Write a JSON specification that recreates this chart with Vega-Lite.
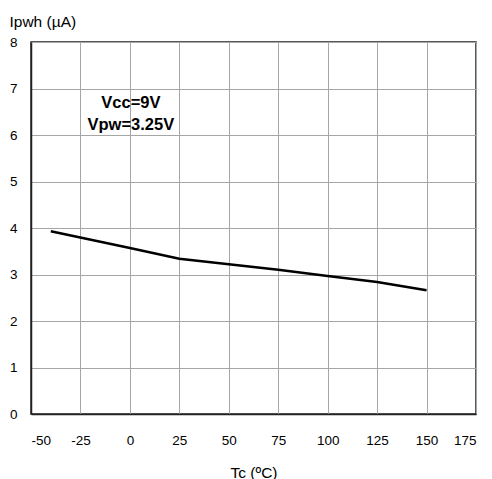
{
  "$schema": "https://vega.github.io/schema/vega-lite/v6.json",
  "autosize": "none",
  "width": 445,
  "height": 372,
  "padding": {"left": 31, "top": 42, "right": 16, "bottom": 65},
  "background": "white",
  "config": {
    "font": "Liberation Sans",
    "view": {"stroke": "#222222", "strokeWidth": 1.5},
    "axis": {
      "grid": true,
      "gridColor": "#a6a6a6",
      "gridWidth": 1,
      "gridOpacity": 1,
      "domainColor": "#222222",
      "domainWidth": 1.5,
      "ticks": false,
      "labelFont": "Liberation Sans",
      "labelFontSize": 13.5,
      "labelColor": "#000000",
      "titleFont": "Liberation Sans",
      "titleFontSize": 15.5,
      "titleFontWeight": "normal",
      "titleColor": "#000000"
    }
  },
  "datasets": {
    "curve": [
      {"Tc": -40, "I": 3.93},
      {"Tc": 0, "I": 3.57},
      {"Tc": 25, "I": 3.34},
      {"Tc": 50, "I": 3.22},
      {"Tc": 75, "I": 3.10},
      {"Tc": 100, "I": 2.97},
      {"Tc": 125, "I": 2.84},
      {"Tc": 150, "I": 2.66}
    ],
    "notes": [
      {"Tc": 0.5, "I": 6.69, "label": "Vcc=9V"},
      {"Tc": 0.5, "I": 6.21, "label": "Vpw=3.25V"}
    ]
  },
  "layer": [
    {
      "data": {"name": "curve"},
      "mark": {"type": "line", "color": "#000000", "strokeWidth": 2.5},
      "encoding": {
        "x": {
          "field": "Tc",
          "type": "quantitative",
          "scale": {"domain": [-50, 175], "nice": false, "zero": false},
          "axis": {
            "values": [-50, -25, 0, 25, 50, 75, 100, 125, 150, 175],
            "labelExpr": "replace(datum.label, '−', '-')",
            "title": "Tc (ºC)",
            "labelBaseline": "alphabetic",
            "labelPadding": 30,
            "labelDx": 2,
            "titleBaseline": "alphabetic",
            "titleY": 63
          }
        },
        "y": {
          "field": "I",
          "type": "quantitative",
          "scale": {"domain": [0, 8], "nice": false},
          "axis": {
            "values": [0, 1, 2, 3, 4, 5, 6, 7, 8],
            "title": "Ipwh (µA)",
            "titleAngle": 0,
            "titleAlign": "left",
            "titleBaseline": "alphabetic",
            "titleX": -22,
            "titleY": -16,
            "labelPadding": 14
          }
        }
      }
    },
    {
      "data": {"name": "notes"},
      "mark": {"type": "text", "font": "Liberation Sans", "fontWeight": "bold", "fontSize": 16.5, "align": "center", "baseline": "middle", "color": "#000000"},
      "encoding": {
        "x": {"field": "Tc", "type": "quantitative"},
        "y": {"field": "I", "type": "quantitative"},
        "text": {"field": "label"}
      }
    }
  ]
}
